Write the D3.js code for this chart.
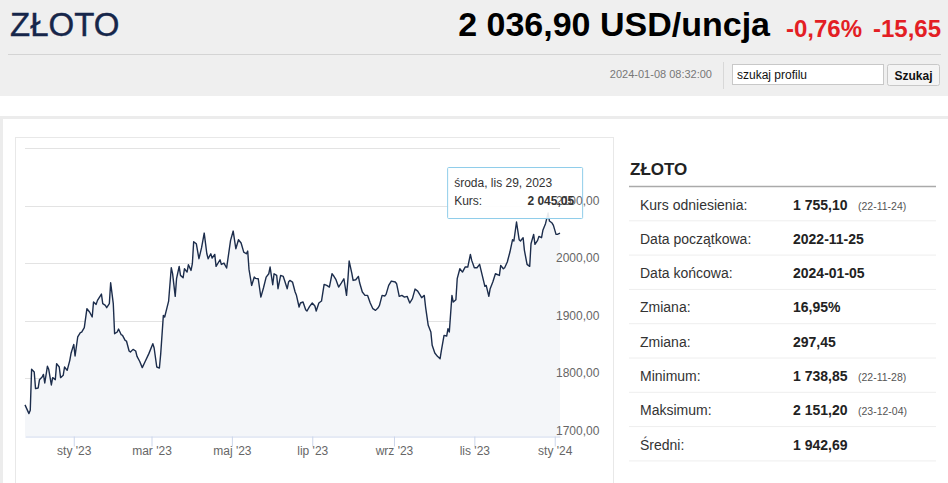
<!DOCTYPE html>
<html lang="pl">
<head>
<meta charset="utf-8">
<title>ZŁOTO</title>
<script src="https://cdn.jsdelivr.net/npm/d3@7"></script>
<style>
  html, body { margin: 0; padding: 0; background: #fff; overflow: hidden; }
  #chart { width: 948px; height: 483px; }
  text { font-family: "Liberation Sans", Arial, sans-serif; }
</style>
</head>
<body>
<div id="chart"></div>
<script>
// notowania złota, USD/uncja (odczyt z wykresu)
const kurs = [
  ["2022-11-25",1754.0],["2022-11-28",1738.9],["2022-11-29",1744.6],["2022-11-30",1815.8],
  ["2022-12-02",1811.0],["2022-12-03",1782.2],["2022-12-05",1783.4],["2022-12-06",1797.8],
  ["2022-12-08",1802.4],["2022-12-09",1807.0],["2022-12-10",1792.0],["2022-12-12",1821.0],
  ["2022-12-13",1815.8],["2022-12-15",1788.6],["2022-12-16",1801.3],["2022-12-18",1797.8],
  ["2022-12-19",1825.6],["2022-12-21",1819.8],["2022-12-22",1801.3],["2022-12-24",1805.4],
  ["2022-12-25",1819.8],["2022-12-27",1814.0],["2022-12-29",1831.4],["2022-12-30",1844.1],
  ["2023-01-01",1859.1],["2023-01-02",1838.9],["2023-01-04",1871.9],["2023-01-06",1879.4],
  ["2023-01-07",1880.5],["2023-01-09",1888.0],["2023-01-11",1921.0],["2023-01-13",1915.3],
  ["2023-01-15",1906.6],["2023-01-16",1932.6],["2023-01-18",1928.5],["2023-01-19",1935.5],
  ["2023-01-22",1946.5],["2023-01-23",1929.7],["2023-01-25",1926.8],["2023-01-26",1922.7],
  ["2023-01-28",1929.7],["2023-01-29",1966.1],["2023-01-31",1929.7],["2023-02-01",1877.6],
  ["2023-02-03",1880.5],["2023-02-04",1885.7],["2023-02-06",1875.9],["2023-02-07",1874.8],
  ["2023-02-09",1866.1],["2023-02-10",1864.9],["2023-02-12",1847.6],["2023-02-13",1845.8],
  ["2023-02-15",1850.4],["2023-02-17",1847.6],["2023-02-18",1838.3],["2023-02-20",1829.7],
  ["2023-02-22",1818.7],["2023-02-24",1828.5],["2023-02-27",1843.0],["2023-03-02",1860.3],
  ["2023-03-03",1852.8],["2023-03-05",1819.8],["2023-03-07",1818.0],["2023-03-08",1843.0],
  ["2023-03-10",1909.5],["2023-03-11",1906.6],["2023-03-13",1925.0],["2023-03-14",1934.3],
  ["2023-03-16",1992.2],["2023-03-17",1981.8],["2023-03-19",1942.4],["2023-03-20",1973.1],
  ["2023-03-22",1994.5],["2023-03-23",1978.9],["2023-03-25",1974.8],["2023-03-26",1990.4],
  ["2023-03-28",1984.6],["2023-03-29",1997.4],["2023-03-31",1987.5],["2023-04-01",1999.1],
  ["2023-04-02",2037.3],["2023-04-04",2033.8],["2023-04-06",2007.8],["2023-04-08",2026.9],
  ["2023-04-10",2052.3],["2023-04-12",2016.4],["2023-04-13",2007.8],["2023-04-15",2016.4],
  ["2023-04-16",2008.9],["2023-04-18",2015.3],["2023-04-19",1994.5],["2023-04-22",2006.0],
  ["2023-04-23",1997.9],["2023-04-25",2000.2],["2023-04-27",1991.6],["2023-04-30",2039.6],
  ["2023-05-02",2055.8],["2023-05-04",2025.1],["2023-05-06",2040.7],["2023-05-08",2035.0],
  ["2023-05-10",2019.3],["2023-05-12",2016.4],["2023-05-13",2021.1],["2023-05-14",1989.2],
  ["2023-05-16",1961.4],["2023-05-18",1975.9],["2023-05-19",1973.6],["2023-05-21",1973.0],
  ["2023-05-23",1941.2],["2023-05-25",1957.4],["2023-05-27",1975.9],["2023-05-29",1981.7],
  ["2023-05-30",1993.3],["2023-06-01",1962.6],["2023-06-02",1981.7],["2023-06-04",1978.8],
  ["2023-06-05",1955.7],["2023-06-07",1978.8],["2023-06-09",1977.0],["2023-06-10",1970.1],
  ["2023-06-12",1955.7],["2023-06-13",1967.3],["2023-06-14",1970.1],["2023-06-16",1967.3],
  ["2023-06-18",1950.0],["2023-06-19",1944.2],["2023-06-21",1924.0],["2023-06-22",1930.9],
  ["2023-06-24",1932.6],["2023-06-26",1919.3],["2023-06-27",1917.0],["2023-06-29",1925.1],
  ["2023-07-01",1930.9],["2023-07-03",1925.7],["2023-07-04",1917.0],["2023-07-06",1930.9],
  ["2023-07-08",1934.3],["2023-07-10",1963.2],["2023-07-12",1961.5],["2023-07-14",1958.6],
  ["2023-07-16",1981.7],["2023-07-17",1978.8],["2023-07-19",1971.3],["2023-07-21",1958.6],
  ["2023-07-23",1965.5],["2023-07-25",1973.0],["2023-07-27",1944.1],["2023-07-28",1970.1],
  ["2023-07-29",2003.7],["2023-07-31",1982.9],["2023-08-01",1970.1],["2023-08-03",1971.3],
  ["2023-08-05",1977.1],["2023-08-06",1965.5],["2023-08-08",1949.9],["2023-08-10",1944.1],
  ["2023-08-12",1944.1],["2023-08-14",1930.9],["2023-08-16",1921.0],["2023-08-18",1918.1],
  ["2023-08-20",1922.7],["2023-08-21",1926.8],["2023-08-23",1944.1],["2023-08-25",1943.0],
  ["2023-08-26",1945.9],["2023-08-28",1961.5],["2023-08-30",1969.0],["2023-09-02",1967.3],
  ["2023-09-03",1964.4],["2023-09-05",1942.4],["2023-09-07",1944.1],["2023-09-09",1941.2],
  ["2023-09-11",1942.4],["2023-09-13",1930.9],["2023-09-15",1938.4],["2023-09-17",1955.1],
  ["2023-09-19",1951.6],["2023-09-21",1944.1],["2023-09-22",1940.1],["2023-09-24",1944.1],
  ["2023-09-25",1923.9],["2023-09-27",1892.1],["2023-09-29",1880.5],["2023-09-30",1857.4],
  ["2023-10-02",1844.1],["2023-10-04",1838.3],["2023-10-06",1834.2],["2023-10-07",1848.7],
  ["2023-10-09",1874.7],["2023-10-11",1873.6],["2023-10-12",1886.3],["2023-10-13",1880.5],
  ["2023-10-15",1944.1],["2023-10-16",1932.6],["2023-10-18",1936.6],["2023-10-19",1973.1],
  ["2023-10-21",1990.4],["2023-10-23",1984.6],["2023-10-25",1993.3],["2023-10-27",1993.3],
  ["2023-10-29",2015.3],["2023-10-30",2004.9],["2023-11-01",1992.2],["2023-11-03",1992.2],
  ["2023-11-05",1998.0],["2023-11-07",1978.9],["2023-11-09",1959.8],["2023-11-10",1961.5],
  ["2023-11-12",1942.4],["2023-11-13",1955.7],["2023-11-15",1967.3],["2023-11-17",1981.7],
  ["2023-11-20",1978.8],["2023-11-21",1996.2],["2023-11-23",1990.4],["2023-11-24",1992.2],
  ["2023-11-26",2002.0],["2023-11-28",2019.4],["2023-11-30",2040.8],["2023-12-01",2038.5],
  ["2023-12-03",2071.5],["2023-12-05",2040.8],["2023-12-06",2038.5],["2023-12-08",2044.3],
  ["2023-12-09",2022.3],["2023-12-11",1998.0],["2023-12-13",1994.5],["2023-12-14",2033.8],
  ["2023-12-16",2050.0],["2023-12-17",2032.7],["2023-12-19",2039.6],["2023-12-20",2046.6],
  ["2023-12-22",2044.3],["2023-12-23",2057.0],["2023-12-25",2068.6],["2023-12-27",2087.1],
  ["2023-12-28",2073.2],["2023-12-30",2069.7],["2023-12-31",2065.7],["2024-01-02",2050.0],
  ["2024-01-03",2050.0],["2024-01-05",2052.3]
];

const yTicks = [1700, 1800, 1900, 2000, 2100, 2200];
const miesiace = ["sty","lut","mar","kwi","maj","cze","lip","sie","wrz","paź","lis","gru"];
const dniTygodnia = ["niedziela","poniedziałek","wtorek","środa","czwartek","piątek","sobota"];

const tooltipPunkt = {date: "2023-11-29", kurs: 2045.05};

const statLabels = ["Kurs odniesienia:", "Data początkowa:", "Data końcowa:", "Zmiana:", "Zmiana:", "Minimum:", "Maksimum:", "Średni:"];
const statValues = ["1 755,10", "2022-11-25", "2024-01-05", "16,95%", "297,45", "1 738,85", "2 151,20", "1 942,69"];
const statDates  = ["(22-11-24)", "", "", "", "", "(22-11-28)", "(23-12-04)", ""];

const header = {name: "ZŁOTO", price: "2 036,90 USD/uncja", pct: "-0,76%", diff: "-15,65", time: "2024-01-08 08:32:00"};

const parse = d3.timeParse("%Y-%m-%d");
const data = kurs.map(d => ({date: parse(d[0]), v: d[1]}));

const plLocale = d3.formatLocale({decimal: ",", thousands: " ", grouping: [3], currency: ["", ""]});
const fmtAxis = v => v.toFixed(2).replace(".", ",");
const fmtTip = plLocale.format(",.2f");

const svg = d3.select('#chart').append('svg')
    .attr('width', 948).attr('height', 483);

// --- header ---
svg.append('rect').attr('x', 0).attr('y', 0).attr('width', 948).attr('height', 96).attr('fill', '#efefef');
svg.append('text').attr('x', 10).attr('y', 36).attr('font-size', 33).attr('fill', '#16264a')
    .attr('stroke', '#16264a').attr('stroke-width', 0.4).text(header.name);
svg.append('text').attr('x', 770).attr('y', 36).attr('text-anchor', 'end')
    .attr('font-size', 34).attr('font-weight', 'bold').attr('fill', '#000').text(header.price);
svg.append('text').attr('x', 786).attr('y', 37).attr('font-size', 24).attr('font-weight', 'bold').attr('fill', '#e31e24').text(header.pct);
svg.append('text').attr('x', 941).attr('y', 37).attr('text-anchor', 'end').attr('font-size', 24).attr('font-weight', 'bold').attr('fill', '#e31e24').text(header.diff);
svg.append('line').attr('x1', 8).attr('x2', 941).attr('y1', 54.5).attr('y2', 54.5).attr('stroke', '#d4d4d4');
svg.append('text').attr('x', 712).attr('y', 78).attr('text-anchor', 'end').attr('font-size', 11).attr('fill', '#777').text(header.time);
svg.append('line').attr('x1', 723.5).attr('x2', 723.5).attr('y1', 62).attr('y2', 89).attr('stroke', '#d8d8d8');
svg.append('rect').attr('x', 732.5).attr('y', 64.5).attr('width', 151).attr('height', 20).attr('fill', '#fff').attr('stroke', '#c8c8c8');
svg.append('text').attr('x', 737).attr('y', 78.5).attr('font-size', 12).attr('fill', '#111').text('szukaj profilu');
svg.append('rect').attr('x', 887.5).attr('y', 64.5).attr('width', 52).attr('height', 21).attr('rx', 2).attr('fill', '#f4f4f4').attr('stroke', '#c8c8c8');
svg.append('text').attr('x', 913.5).attr('y', 79.5).attr('text-anchor', 'middle').attr('font-size', 12).attr('font-weight', 'bold').attr('fill', '#111').text('Szukaj');

// panel frame
svg.append('rect').attr('x', 0).attr('y', 116).attr('width', 948).attr('height', 3).attr('fill', '#ececec');
svg.append('rect').attr('x', 0).attr('y', 116).attr('width', 3).attr('height', 367).attr('fill', '#ececec');

// --- chart box ---
svg.append('rect').attr('x', 15.5).attr('y', 137.5).attr('width', 598).attr('height', 400)
    .attr('fill', '#fff').attr('stroke', '#e8e8e8');

const x = d3.scaleTime()
    .domain(d3.extent(data, d => d.date))
    .range([25, 560]);
const y = d3.scaleLinear()
    .domain([1700, 2200])
    .range([436, 148]);

const plot = svg.append('g');

// grid
plot.selectAll('line.grid')
    .data(yTicks.filter(v => v > 1700))
    .enter().append('line')
    .attr('class', 'grid')
    .attr('x1', 25).attr('x2', 560)
    .attr('y1', d => Math.round(y(d)) + 0.5).attr('y2', d => Math.round(y(d)) + 0.5)
    .attr('stroke', '#e3e3e3');

const area = d3.area()
    .x(d => x(d.date))
    .y0(y(1700))
    .y1(d => y(d.v));
const line = d3.line()
    .x(d => x(d.date))
    .y(d => y(d.v));

plot.append('path').attr('d', area(data)).attr('fill', '#f4f6f9');
plot.append('path').attr('d', line(data)).attr('fill', 'none')
    .attr('stroke', '#1c2d4c').attr('stroke-width', 1.4).attr('stroke-linejoin', 'round');

// x axis
const xAxis = d3.axisBottom(x)
    .tickValues(d3.timeMonth.every(2).range(x.domain()[0], x.domain()[1]))
    .tickSize(10).tickSizeOuter(0).tickPadding(0)
    .tickFormat(d => miesiace[d.getMonth()] + " '" + String(d.getFullYear()).slice(2));
const gx = svg.append('g').attr('transform', 'translate(0,' + (y(1700) + 0.5) + ')').call(xAxis);
gx.select('.domain').attr('stroke', '#ccd6eb');
gx.selectAll('.tick line').attr('stroke', '#ccd6eb');
gx.selectAll('.tick text').attr('fill', '#666').attr('font-size', 12)
    .attr('font-family', '"Liberation Sans", Arial, sans-serif');

// tooltip box (labels of the y axis stay visible above it, as in the original)
const peak = data.reduce((a, b) => b.v > a.v ? b : a);
const tx = x(peak.date) - 101, ty = y(peak.v) - 46;
const tipDate = parse(tooltipPunkt.date);
const tipBox = svg.append('g').attr('transform', 'translate(' + tx + ',' + ty + ')');
tipBox.append('rect').attr('x', 0.5).attr('y', 0.5).attr('width', 135).attr('height', 51).attr('rx', 1)
    .attr('fill', 'rgba(255,255,255,0.9)').attr('stroke', '#8fcdea');

// y labels (right side)
const yAxis = d3.axisRight(y)
    .tickValues(yTicks.filter(v => v < 2200))
    .tickSize(0).tickPadding(0)
    .tickFormat(fmtAxis);
const gy = svg.append('g').attr('transform', 'translate(556,0)').call(yAxis);
gy.select('.domain').remove();
gy.selectAll('.tick text').attr('fill', '#666').attr('font-size', 12).attr('dy', '-0.12em')
    .attr('font-family', '"Liberation Sans", Arial, sans-serif');

// tooltip text
const tip = svg.append('g').attr('transform', 'translate(' + tx + ',' + ty + ')');
tip.append('text').attr('x', 7).attr('y', 20).attr('font-size', 12).attr('fill', '#333')
    .text(dniTygodnia[tipDate.getDay()] + ', ' + miesiace[tipDate.getMonth()] + ' ' + tipDate.getDate() + ', ' + tipDate.getFullYear());
tip.append('text').attr('x', 7).attr('y', 38).attr('font-size', 12).attr('fill', '#333').text('Kurs:');
tip.append('text').attr('x', 127).attr('y', 38).attr('text-anchor', 'end').attr('font-size', 12)
    .attr('font-weight', 'bold').attr('fill', '#333').text(fmtTip(tooltipPunkt.kurs));

// --- stats table ---
const tbl = svg.append('g');
tbl.append('text').attr('x', 630).attr('y', 175).attr('font-size', 17).attr('font-weight', 'bold').attr('fill', '#222').text(header.name);
tbl.append('line').attr('x1', 629).attr('x2', 936).attr('y1', 186.5).attr('y2', 186.5).attr('stroke', '#aaa').attr('stroke-width', 1.5);

const rowH = 34.3;
const rows = tbl.selectAll('g.row').data(statLabels).enter().append('g')
    .attr('class', 'row')
    .attr('transform', (d, i) => 'translate(0,' + (186 + i * rowH) + ')');
rows.append('line').attr('x1', 629).attr('x2', 936).attr('y1', rowH + 0.5).attr('y2', rowH + 0.5).attr('stroke', '#eeeeee');
rows.append('text').attr('x', 640).attr('y', 23.5).attr('font-size', 14).attr('fill', '#333').text(d => d);
rows.append('text').attr('x', 793).attr('y', 23.5).attr('font-size', 14).attr('font-weight', 'bold').attr('fill', '#222')
    .text((d, i) => statValues[i]);
rows.append('text').attr('x', 858).attr('y', 23.5).attr('font-size', 10.5).attr('fill', '#555')
    .text((d, i) => statDates[i]);
</script>
</body>
</html>
